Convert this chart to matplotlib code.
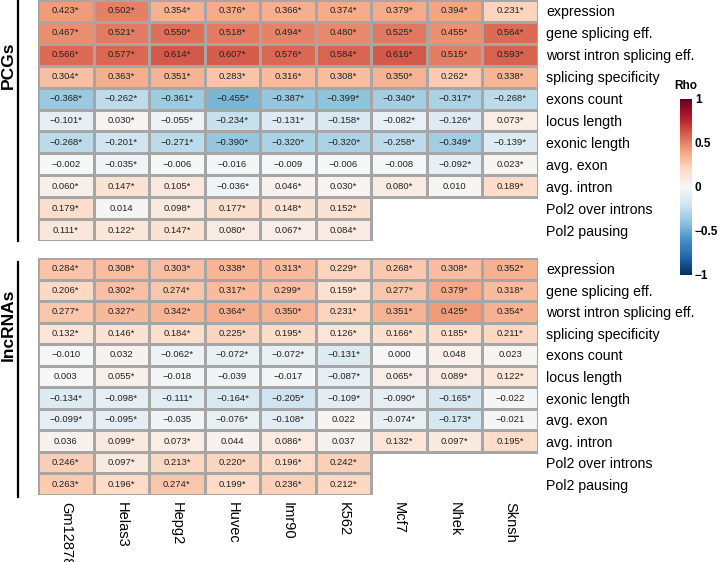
import numpy as np
import matplotlib
matplotlib.use("Agg")
import matplotlib.pyplot as plt
from matplotlib.colors import Normalize, to_rgba
from matplotlib.cm import ScalarMappable

plt.rcParams['font.family'] = ['Liberation Sans', 'DejaVu Sans']

# Cell lines (columns) and features (rows)
cell_lines = ["Gm12878", "Helas3", "Hepg2", "Huvec", "Imr90", "K562",
              "Mcf7", "Nhek", "Sknsh"]
features = ["expression", "gene splicing eff.", "worst intron splicing eff.",
            "splicing specificity", "exons count", "locus length",
            "exonic length", "avg. exon", "avg. intron",
            "Pol2 over introns", "Pol2 pausing"]

# Spearman rho, '*' = significant, '' = no value
pcg_cells = [
    ["0.423*", "0.502*", "0.354*", "0.376*", "0.366*", "0.374*", "0.379*", "0.394*", "0.231*"],
    ["0.467*", "0.521*", "0.550*", "0.518*", "0.494*", "0.480*", "0.525*", "0.455*", "0.564*"],
    ["0.566*", "0.577*", "0.614*", "0.607*", "0.576*", "0.584*", "0.616*", "0.515*", "0.593*"],
    ["0.304*", "0.363*", "0.351*", "0.283*", "0.316*", "0.308*", "0.350*", "0.262*", "0.338*"],
    ["-0.368*", "-0.262*", "-0.361*", "-0.455*", "-0.387*", "-0.399*", "-0.340*", "-0.317*", "-0.268*"],
    ["-0.101*", "0.030*", "-0.055*", "-0.234*", "-0.131*", "-0.158*", "-0.082*", "-0.126*", "0.073*"],
    ["-0.268*", "-0.201*", "-0.271*", "-0.390*", "-0.320*", "-0.320*", "-0.258*", "-0.349*", "-0.139*"],
    ["-0.002", "-0.035*", "-0.006", "-0.016", "-0.009", "-0.006", "-0.008", "-0.092*", "0.023*"],
    ["0.060*", "0.147*", "0.105*", "-0.036*", "0.046*", "0.030*", "0.080*", "0.010", "0.189*"],
    ["0.179*", "0.014", "0.098*", "0.177*", "0.148*", "0.152*", "", "", ""],
    ["0.111*", "0.122*", "0.147*", "0.080*", "0.067*", "0.084*", "", "", ""],
]

lnc_cells = [
    ["0.284*", "0.308*", "0.303*", "0.338*", "0.313*", "0.229*", "0.268*", "0.308*", "0.352*"],
    ["0.206*", "0.302*", "0.274*", "0.317*", "0.299*", "0.159*", "0.277*", "0.379*", "0.318*"],
    ["0.277*", "0.327*", "0.342*", "0.364*", "0.350*", "0.231*", "0.351*", "0.425*", "0.354*"],
    ["0.132*", "0.146*", "0.184*", "0.225*", "0.195*", "0.126*", "0.166*", "0.185*", "0.211*"],
    ["-0.010", "0.032", "-0.062*", "-0.072*", "-0.072*", "-0.131*", "0.000", "0.048", "0.023"],
    ["0.003", "0.055*", "-0.018", "-0.039", "-0.017", "-0.087*", "0.065*", "0.089*", "0.122*"],
    ["-0.134*", "-0.098*", "-0.111*", "-0.164*", "-0.205*", "-0.109*", "-0.090*", "-0.165*", "-0.022"],
    ["-0.099*", "-0.095*", "-0.035", "-0.076*", "-0.108*", "0.022", "-0.074*", "-0.173*", "-0.021"],
    ["0.036", "0.099*", "0.073*", "0.044", "0.086*", "0.037", "0.132*", "0.097*", "0.195*"],
    ["0.246*", "0.097*", "0.213*", "0.220*", "0.196*", "0.242*", "", "", ""],
    ["0.263*", "0.196*", "0.274*", "0.199*", "0.236*", "0.212*", "", "", ""],
]

W, H = 720, 562
cmap = plt.get_cmap("RdBu_r")
norm = Normalize(vmin=-1, vmax=1)

fig = plt.figure(figsize=(W / 100, H / 100), dpi=100)


def px_axes(x0, y0, x1, y1):
    # pixel box (top-left origin) -> figure axes
    return fig.add_axes([x0 / W, 1 - y1 / H, (x1 - x0) / W, (y1 - y0) / H])


def draw_block(ax, cells, show_xlabels):
    vals = np.array([[float(c.rstrip('*')) if c else np.nan for c in row]
                     for row in cells])
    data = np.ma.masked_invalid(vals)
    mesh = ax.pcolormesh(data, cmap=cmap, norm=norm, linewidth=0.8)
    # grey borders only around cells that hold a value
    edge = np.array(to_rgba('#a6a6a6'))
    ec = np.where(np.isnan(vals).ravel()[:, None], np.zeros(4), edge)
    mesh.set_edgecolor(ec)
    for i, row in enumerate(cells):
        for j, c in enumerate(row):
            if c:
                ax.text(j + 0.5, i + 0.5, c.replace('-', '\u2212'),
                        ha='center', va='center', fontsize=6.8,
                        color='#222222')
    ax.set_xlim(0, len(cell_lines))
    ax.set_ylim(len(features), 0)
    ax.yaxis.tick_right()
    ax.set_yticks(np.arange(len(features)) + 0.5)
    ax.set_yticklabels(features, fontsize=10.2)
    ax.tick_params(axis='y', length=0, pad=6)
    ax.set_xticks(np.arange(len(cell_lines)) + 0.5)
    if show_xlabels:
        ax.set_xticklabels(cell_lines, rotation=-90, fontsize=10.5)
        ax.tick_params(axis='x', length=0, pad=5)
    else:
        ax.set_xticklabels([])
        ax.tick_params(axis='x', length=0)
    for s in ax.spines.values():
        s.set_visible(False)


ax1 = px_axes(38, 0, 538, 241)
draw_block(ax1, pcg_cells, False)
ax2 = px_axes(38, 258, 538, 495)
draw_block(ax2, lnc_cells, True)

# group labels with vertical bars
fig.add_artist(plt.Line2D([18 / W, 18 / W], [1 - 1 / H, 1 - 241 / H],
                          color='black', linewidth=1.6))
fig.add_artist(plt.Line2D([18 / W, 18 / W], [1 - 262 / H, 1 - 497 / H],
                          color='black', linewidth=1.6))
fig.text(8 / W, 1 - 65 / H, "PCGs", rotation=90, ha='center', va='center',
         fontsize=12.5, fontweight='bold')
fig.text(8 / W, 1 - 325 / H, "lncRNAs", rotation=90, ha='center',
         va='center', fontsize=12.5, fontweight='bold')

# colorbar
cax = px_axes(680, 99, 692, 275)
cb = fig.colorbar(ScalarMappable(norm=norm, cmap=cmap), cax=cax)
cb.outline.set_visible(False)
cb.set_ticks([1, 0.5, 0, -0.5, -1])
cb.set_ticklabels(["1", "0.5", "0", "\u22120.5", "\u22121"])
cax.tick_params(length=0, pad=2, labelsize=8.5)
for t in cax.get_yticklabels():
    t.set_fontweight('bold')
cax.set_title("Rho", fontsize=8.5, fontweight='bold', pad=7)

fig.savefig("out.png", dpi=100)
